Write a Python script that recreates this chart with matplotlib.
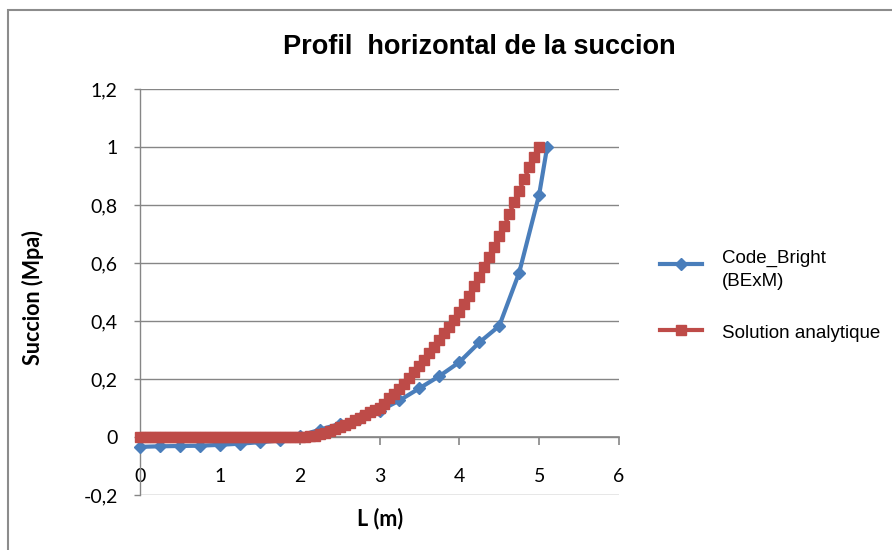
import numpy as np
import matplotlib
matplotlib.use("Agg")
import matplotlib.pyplot as plt
import matplotlib.patches as patches
from matplotlib.lines import Line2D

# Code_Bright (BExM) results
l_code = [0, 0.25, 0.5, 0.75, 1.0, 1.25, 1.5, 1.75, 2.0, 2.25, 2.5, 2.75,
          3.0, 3.25, 3.5, 3.75, 4.0, 4.25, 4.5, 4.75, 5.0, 5.1]
s_code = [-0.034, -0.032, -0.031, -0.03, -0.027, -0.023, -0.018, -0.012,
          0.004, 0.025, 0.045, 0.066, 0.09, 0.126, 0.168, 0.21, 0.258,
          0.326, 0.383, 0.567, 0.836, 1.0]

# analytic solution, sampled every 0.0625 m
l_ana = [i * 0.0625 for i in range(81)]
s_ana = [0.0] * 34 + [
    0.002, 0.005, 0.01, 0.015, 0.021, 0.028, 0.035, 0.042, 0.05, 0.058,
    0.067, 0.076, 0.085, 0.093, 0.1, 0.115, 0.133, 0.15, 0.166, 0.184,
    0.204, 0.224, 0.245, 0.265, 0.288, 0.312, 0.333, 0.358, 0.38, 0.403,
    0.432, 0.458, 0.487, 0.522, 0.553, 0.587, 0.622, 0.655, 0.692, 0.727,
    0.768, 0.81, 0.85, 0.888, 0.93, 0.965, 1.0]

yticks = [-0.2, 0, 0.2, 0.4, 0.6, 0.8, 1.0, 1.2]
ylabels = ["-0,2", "0", "0,2", "0,4", "0,6", "0,8", "1", "1,2"]
xticks = [0, 1, 2, 3, 4, 5, 6]

blue = "#4A7EBB"
red = "#BE4B48"
gray = "#868686"

W, H = 892, 550
fig = plt.figure(figsize=(W / 100, H / 100), dpi=100)
fig.patch.set_facecolor("white")

def fx(px):
    return px / W

def fy(py):
    return 1 - py / H

# outer chart frame (runs off the right and bottom edges)
fig.add_artist(patches.Rectangle((fx(8), fy(600)), 2, fy(10) - fy(600),
                                 transform=fig.transFigure, fill=False,
                                 edgecolor="#8c8c8c", lw=1.5))

ax = fig.add_axes([fx(140), fy(495), fx(619) - fx(140), fy(89) - fy(495)])
ax.set_xlim(0, 6)
ax.set_ylim(-0.2, 1.2)

for v in yticks:
    ax.axhline(v, color=gray, lw=1.0, zorder=1)

ax.spines["top"].set_visible(False)
ax.spines["right"].set_visible(False)
ax.spines["left"].set_color(gray)
ax.spines["left"].set_linewidth(1.0)
ax.spines["bottom"].set_position(("data", 0))
ax.spines["bottom"].set_color(gray)
ax.spines["bottom"].set_linewidth(1.2)

ax.set_yticks(yticks)
ax.set_yticklabels(ylabels)
ax.set_xticks(xticks)
ax.set_xticklabels([str(t) for t in xticks])
ax.tick_params(axis="y", direction="out", length=4, color=gray, width=1.0,
               pad=12, labelsize=14)
ax.tick_params(axis="x", direction="out", length=6, color=gray, width=1.2,
               pad=16, labelsize=14)
for lab in ax.get_xticklabels() + ax.get_yticklabels():
    lab.set_fontfamily("Lato")

ax.plot(l_code, s_code, color=blue, lw=3.0, marker="D", ms=6,
        mfc=blue, mec=blue, zorder=3, clip_on=False)
ax.plot(l_ana, s_ana, color=red, lw=3.0, marker="s", ms=7.5,
        mfc=red, mec=red, zorder=4, clip_on=False)

fig.text(fx(479), fy(47), "Profil  horizontal de la succion",
         ha="center", va="center", fontsize=19.5, fontweight="bold",
         family="Liberation Sans")
fig.text(fx(33), fy(298), "Succion (Mpa)", rotation=90, ha="center",
         va="center", fontsize=15.5, fontweight="bold", family="Lato")
fig.text(fx(380), fy(519), "L (m)", ha="center", va="center",
         fontsize=15.5, fontweight="bold", family="Lato")

# legend
fig.add_artist(Line2D([fx(660), fx(702)], [fy(264), fy(264)],
                      transform=fig.transFigure, color=blue, lw=3.0))
fig.add_artist(Line2D([fx(681)], [fy(264)], transform=fig.transFigure,
                      marker="D", ms=6, color=blue))
fig.add_artist(Line2D([fx(660), fx(702)], [fy(330), fy(330)],
                      transform=fig.transFigure, color=red, lw=3.0))
fig.add_artist(Line2D([fx(681)], [fy(330)], transform=fig.transFigure,
                      marker="s", ms=7.5, color=red))
fig.text(fx(722), fy(258), "Code_Bright", ha="left", va="center",
         fontsize=13.5, family="Liberation Sans")
fig.text(fx(722), fy(282), "(BExM)", ha="left", va="center",
         fontsize=13.5, family="Liberation Sans")
fig.text(fx(722), fy(333), "Solution analytique", ha="left", va="center",
         fontsize=13.5, family="Liberation Sans")

fig.savefig("out.png", dpi=100)
